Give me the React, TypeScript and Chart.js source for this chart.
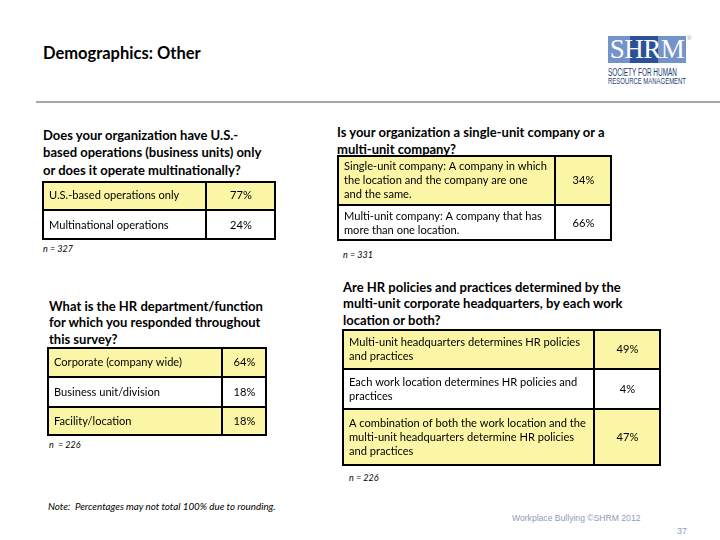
import React, { useEffect, useRef } from "react";
import { Chart, registerables } from "chart.js";

Chart.register(...registerables);

// ---------- data ----------
const q1Title = ["Does your organization have U.S.-", "based operations (business units) only", "or does it operate multinationally?"];
const q1Labels = [["U.S.-based operations only"], ["Multinational operations"]];
const q1Values = [77, 24];
const q1N = "n = 327";

const q2Title = ["Is your organization a single-unit company or a", "multi-unit company?"];
const q2Labels = [
  ["Single-unit company: A company in which", "the location and the company are one", "and the same."],
  ["Multi-unit company: A company that has", "more than one location."],
];
const q2Values = [34, 66];
const q2N = "n = 331";

const q3Title = ["What is the HR department/function", "for which you responded throughout", "this survey?"];
const q3Labels = [["Corporate (company wide)"], ["Business unit/division"], ["Facility/location"]];
const q3Values = [64, 18, 18];
const q3N = "n  = 226";

const q4Title = ["Are HR policies and practices determined by the", "multi-unit corporate headquarters, by each work", "location or both?"];
const q4Labels = [
  ["Multi-unit headquarters determines HR policies", "and practices"],
  ["Each work location determines HR policies and", "practices"],
  ["A combination of both the work location and the", "multi-unit headquarters determine HR policies", "and practices"],
];
const q4Values = [49, 4, 47];
const q4N = "n = 226";

// ---------- layout (positions / sizes) ----------
const YELLOW = "#FAF6A5";
const layouts = {
  t1: { left: 42, col: 206, right: 276, top: 181, rows: [29, 30], fills: [YELLOW, "#FFFFFF"] },
  t2: { left: 337, col: 555, right: 612, top: 155, rows: [50, 36], fills: [YELLOW, "#FFFFFF"] },
  t3: { left: 47, col: 222, right: 267, top: 347, rows: [30, 30, 29], fills: [YELLOW, "#FFFFFF", YELLOW] },
  t4: { left: 342, col: 594, right: 661, top: 329, rows: [40, 40, 57], fills: [YELLOW, "#FFFFFF", YELLOW] },
};

const CELL_FONT = "11.1px Lato";
const CELL_LH = 14;

type ColProps = {
  texts: string[][];
  heights: number[];
  fills: string[];
  side: "label" | "value";
  left: number;
  top: number;
  width: number;
};

function ColumnChart({ texts, heights, fills, side, left, top, width }: ColProps) {
  const ref = useRef<HTMLCanvasElement>(null);
  const height = heights.reduce((a, b) => a + b, 0);
  useEffect(() => {
    if (!ref.current) return;
    const n = heights.length;
    const textPlugin = {
      id: "cellText",
      afterDatasetsDraw(chart: any) {
        const ctx = chart.ctx as CanvasRenderingContext2D;
        ctx.save();
        ctx.fillStyle = "#000";
        ctx.font = CELL_FONT;
        ctx.textBaseline = "middle";
        chart.data.datasets.forEach((_ds: any, i: number) => {
          const el = chart.getDatasetMeta(i).data[0];
          const { x, y, base, width: w } = el.getProps(["x", "y", "base", "width"], true);
          const t = Math.min(y, base);
          const b = Math.max(y, base);
          const cy = (t + b) / 2;
          const lines = texts[i];
          const sy = cy - ((lines.length - 1) * CELL_LH) / 2;
          ctx.textAlign = side === "label" ? "left" : "center";
          const tx = side === "label" ? x - w / 2 + 7 : x;
          lines.forEach((ln, k) => ctx.fillText(ln, tx, sy + k * CELL_LH));
        });
        ctx.restore();
      },
    };
    const chart = new Chart(ref.current, {
      type: "bar",
      data: {
        labels: [""],
        datasets: heights.map((h, i) => ({
          data: [h],
          backgroundColor: fills[i],
          borderColor: "#000",
          borderSkipped: false,
          inflateAmount: 0,
          borderWidth: {
            top: i === 0 ? 2 : 1,
            bottom: i === n - 1 ? 2 : 1,
            left: side === "label" ? 2 : 1,
            right: side === "label" ? 1 : 2,
          },
          stack: "t",
          categoryPercentage: 1,
          barPercentage: 1,
        })),
      },
      options: {
        animation: false,
        responsive: false,
        devicePixelRatio: 1,
        layout: { padding: 0 },
        plugins: { legend: { display: false }, tooltip: { enabled: false }, title: { display: false } },
        scales: {
          x: { display: false, stacked: true },
          y: { display: false, stacked: true, reverse: true, min: 0, max: height },
        },
      } as any,
      plugins: [textPlugin],
    });
    return () => chart.destroy();
  }, []);
  return (
    <canvas
      ref={ref}
      width={width}
      height={height}
      style={{ position: "absolute", left, top, width, height }}
    />
  );
}

function Table({ lay, labels, values }: { lay: any; labels: string[][]; values: number[] }) {
  return (
    <>
      <ColumnChart texts={labels} heights={lay.rows} fills={lay.fills} side="label" left={lay.left} top={lay.top} width={lay.col - lay.left} />
      <ColumnChart texts={values.map((v) => [v + "%"])} heights={lay.rows} fills={lay.fills} side="value" left={lay.col} top={lay.top} width={lay.right - lay.col} />
    </>
  );
}

const abs = (left: number, top: number, extra: React.CSSProperties = {}): React.CSSProperties => ({
  position: "absolute",
  left,
  top,
  whiteSpace: "pre",
  margin: 0,
  ...extra,
});

const titleStyle: React.CSSProperties = { fontFamily: "Lato", fontWeight: 700, fontSize: 13, lineHeight: "17.5px", color: "#000" };
const nStyle: React.CSSProperties = { fontFamily: "Lato", fontStyle: "italic", fontSize: 9, lineHeight: "9px", color: "#000" };

function Lines({ lines }: { lines: string[] }) {
  return (
    <>
      {lines.map((l, i) => (
        <div key={i}>{l}</div>
      ))}
    </>
  );
}

export default function App() {
  return (
    <div style={{ position: "fixed", left: 0, top: 0, width: 720, height: 540, background: "#fff", overflow: "hidden", fontFamily: "Lato" }}>
      <div style={abs(43, 45, { fontFamily: "Lato", fontWeight: 700, fontSize: 16.5, lineHeight: "16.5px" })}>Demographics: Other</div>
      <div style={{ position: "absolute", left: 36, top: 101, width: 684, height: 1.5, background: "#a6a6a6" }} />

      {/* logo */}
      <div style={{ position: "absolute", left: 608, top: 36, width: 78, height: 27, background: "#7393c9" }} />
      <div style={{ position: "absolute", left: 630, top: 36, width: 28, height: 27, background: "#2c5196" }} />
      <div style={abs(608, 35, { width: 78, textAlign: "center", fontFamily: "Liberation Serif", fontSize: 27, lineHeight: "29px", color: "#fff", letterSpacing: -0.5 })}>SHRM</div>
      <div style={abs(687, 35, { fontFamily: "Liberation Sans", fontSize: 6, lineHeight: "6px", color: "#8a9ab5" })}>®</div>
      <svg width={90} height={24} style={{ position: "absolute", left: 607, top: 64 }}>
        <text x={1} y={11.5} textLength={69} lengthAdjust="spacingAndGlyphs" fontFamily="Liberation Sans" fontSize={10} fill="#1e3c78">SOCIETY FOR HUMAN</text>
        <text x={1} y={20} textLength={78} lengthAdjust="spacingAndGlyphs" fontFamily="Liberation Sans" fontSize={9.5} fill="#1e3c78">RESOURCE MANAGEMENT</text>
      </svg>

      {/* Q1 */}
      <div style={abs(43, 126.5, titleStyle)}><Lines lines={q1Title} /></div>
      <Table lay={layouts.t1} labels={q1Labels} values={q1Values} />
      <div style={abs(43, 244, nStyle)}>{q1N}</div>

      {/* Q2 */}
      <div style={abs(337, 123.5, titleStyle)}><Lines lines={q2Title} /></div>
      <Table lay={layouts.t2} labels={q2Labels} values={q2Values} />
      <div style={abs(343, 250, nStyle)}>{q2N}</div>

      {/* Q3 */}
      <div style={abs(49, 297.5, { ...titleStyle, lineHeight: "16.5px" })}><Lines lines={q3Title} /></div>
      <Table lay={layouts.t3} labels={q3Labels} values={q3Values} />
      <div style={abs(49, 440, nStyle)}>{q3N}</div>

      {/* Q4 */}
      <div style={abs(343, 278.5, { ...titleStyle, lineHeight: "16.5px" })}><Lines lines={q4Title} /></div>
      <Table lay={layouts.t4} labels={q4Labels} values={q4Values} />
      <div style={abs(349, 473, nStyle)}>{q4N}</div>

      {/* footer */}
      <div style={abs(48, 502, { ...nStyle, fontSize: 9.8, lineHeight: "9.8px" })}>{"Note:  Percentages may not total 100% due to rounding."}</div>
      <div style={abs(512, 514, { fontFamily: "Liberation Sans", fontSize: 8.6, lineHeight: "9px", color: "#8c9db8" })}>Workplace Bullying ©SHRM 2012</div>
      <div style={abs(677, 526, { fontFamily: "Liberation Sans", fontSize: 9, lineHeight: "10px", color: "#8c9db8" })}>37</div>
    </div>
  );
}
